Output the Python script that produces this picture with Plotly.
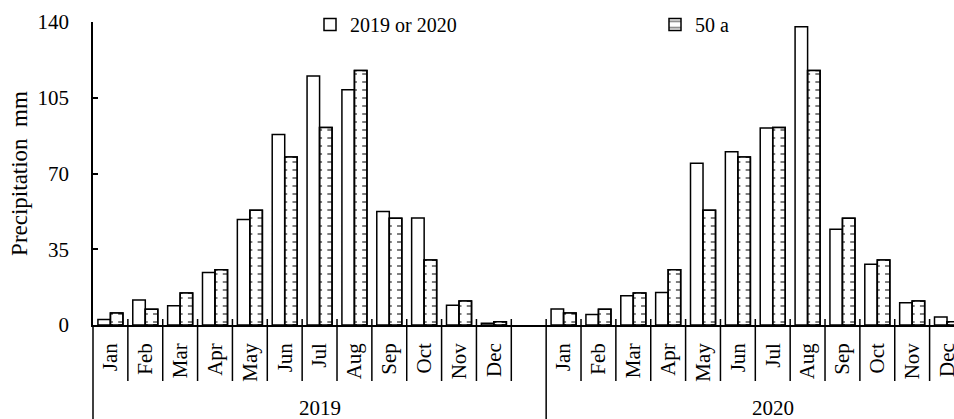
import plotly.graph_objects as go

# ---- data -------------------------------------------------------------
months = ["Jan", "Feb", "Mar", "Apr", "May", "Jun",
          "Jul", "Aug", "Sep", "Oct", "Nov", "Dec"]
years = ["2019", "2020"]
precip_2019 = [2.5, 11.5, 8.9, 24.3, 48.8, 88.0, 115.0, 108.7, 52.5, 49.4, 9.1, 0.8]
precip_2020 = [7.4, 4.9, 13.5, 15.0, 74.7, 80.1, 91.0, 137.8, 44.2, 28.1, 10.3, 3.7]
mean_50a = [5.5, 7.3, 14.8, 25.5, 53.0, 77.6, 91.3, 117.6, 49.3, 30.0, 11.1, 1.5]
y_ticks = [0, 35, 70, 105, 140]

# ---- layout geometry ----------------------------------------------------
W, H = 954, 419
M_L, M_R, M_T, M_B = 93, 0, 22, 94
plot_h = H - M_T - M_B
plot_w = W - M_L - M_R

FONT = "Liberation Serif"
INK = "black"
LW = 1.5

# each year block holds 12 months plus one empty slot
slots = len(months) + 1
x_2019 = list(range(len(months)))
x_2020 = [slots + i for i in range(len(months))]
x_all = x_2019 + x_2020
obs = precip_2019 + precip_2020
ref = mean_50a + mean_50a
labels = months + months

bar_w = 0.359          # width of one bar in category units

fig = go.Figure()

# observed precipitation (plain white bars)
fig.add_trace(go.Bar(
    x=x_all, y=obs, name="2019 or 2020",
    width=bar_w, offset=-bar_w,
    marker=dict(color="white", line=dict(color=INK, width=LW)),
))

# 50-year mean: dashed fill
fig.add_trace(go.Bar(
    x=x_all, y=ref, name="50 a",
    width=bar_w, offset=0,
    marker=dict(color="white", line=dict(color=INK, width=LW),
                pattern=dict(shape="-", fgcolor=INK, bgcolor="white",
                             size=8, solidity=0.25)),
))
# clear the middle of the dashes so they sit on the bar edges
fig.add_trace(go.Bar(
    x=x_all, y=ref, showlegend=False, hoverinfo="skip",
    width=bar_w * 0.42, offset=bar_w * 0.2,
    marker=dict(color="white", line=dict(width=0)),
))
# outline of the 50-year bars on top
fig.add_trace(go.Bar(
    x=x_all, y=ref, showlegend=False, hoverinfo="skip",
    width=bar_w, offset=0,
    marker=dict(color="rgba(0,0,0,0)", line=dict(color=INK, width=LW)),
))

# ---- category separators and year groups -------------------------------
up = 6 / plot_h
down = -56 / plot_h
bottom = -M_B / plot_h
shapes = []
group_edges = [-0.5, slots - 0.5]
for b in range(2 * slots):
    xb = b - 0.5
    y_end = bottom if xb in group_edges else down
    if xb == -0.5:
        shapes.append(dict(type="line", xref="paper", yref="paper",
                           x0=0, x1=0, y0=0, y1=bottom,
                           line=dict(color=INK, width=LW)))
        continue
    shapes.append(dict(type="line", xref="x", yref="paper",
                       x0=xb, x1=xb, y0=up, y1=y_end,
                       line=dict(color=INK, width=LW)))

annotations = []
for k, yr in enumerate(years):
    start = k * slots - 0.5
    end = start + slots if k == 0 else start + len(months) + 1
    annotations.append(dict(
        text=yr, x=(start + end) / 2, y=-83 / plot_h,
        xref="x", yref="paper", showarrow=False,
        xanchor="center", yanchor="middle",
        font=dict(family=FONT, size=21, color=INK),
    ))

fig.update_layout(
    width=W, height=H,
    margin=dict(l=M_L, r=M_R, t=M_T, b=M_B, autoexpand=False),
    paper_bgcolor="white", plot_bgcolor="white",
    barmode="overlay",
    font=dict(family=FONT, size=20, color=INK),
    shapes=shapes,
    annotations=annotations,
    showlegend=True,
    legend=dict(orientation="h", x=(310 - M_L) / plot_w,
                y=(plot_h + M_T - 5) / plot_h, xanchor="left", yanchor="top",
                entrywidth=300, entrywidthmode="pixels",
                font=dict(family=FONT, size=20, color=INK),
                bgcolor="rgba(0,0,0,0)", borderwidth=0,
                traceorder="normal"),
    xaxis=dict(
        range=[-0.5, 24.2],
        tickmode="array", tickvals=x_all, ticktext=labels,
        tickangle=-90, ticks="", ticklabelstandoff=8,
        ticklabeloverflow="allow",
        showline=True, linecolor=INK, linewidth=LW,
        showgrid=False, zeroline=False,
        tickfont=dict(family=FONT, size=21, color=INK),
    ),
    yaxis=dict(
        range=[0, 140],
        tickmode="array", tickvals=y_ticks,
        ticks="inside", ticklen=5, tickwidth=LW, tickcolor=INK,
        ticklabelstandoff=18,
        showline=True, linecolor=INK, linewidth=LW,
        showgrid=False, zeroline=False,
        tickfont=dict(family=FONT, size=21, color=INK),
        title=dict(text="Precipitation  mm", standoff=3,
                   font=dict(family=FONT, size=23, color=INK)),
    ),
)

fig.write_html("out.html")
